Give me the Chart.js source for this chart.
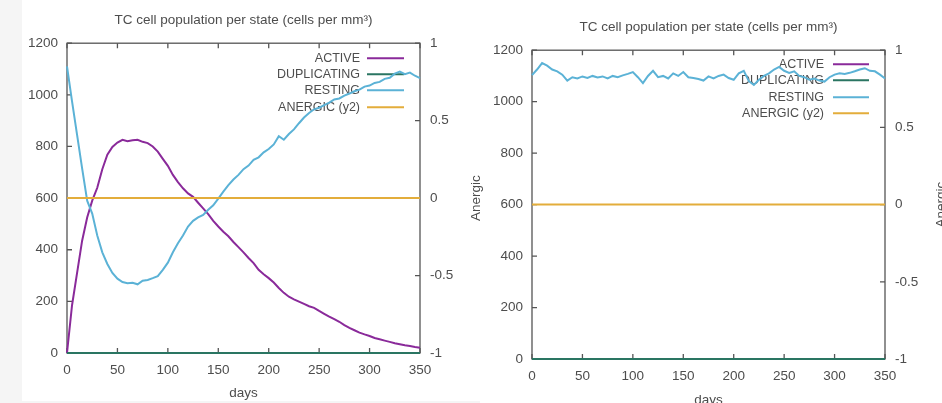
<!DOCTYPE html>
<html>
<head>
<meta charset="utf-8">
<script src="https://cdn.jsdelivr.net/npm/chart.js@4/dist/chart.umd.min.js"></script>
<style>
  body { margin: 0; width: 942px; height: 403px; overflow: hidden; background: #fff; position: relative; }
  #strip { position: absolute; left: 0; top: 0; width: 22px; height: 403px; background: #f5f5f5; }
  #band { position: absolute; left: 0; top: 401px; width: 480px; height: 2px; background: #f5f5f5; }
  canvas { position: absolute; top: 0; }
  #leftChart { left: 0; }
  #rightChart { left: 480px; }
</style>
</head>
<body>
<div id="strip"></div>
<div id="band"></div>
<canvas id="leftChart" width="490" height="403"></canvas>
<canvas id="rightChart" width="475" height="412"></canvas>
<script>
// sampling days shared by the noisy series
const days = [0, 5, 10, 15, 20, 25, 30, 35, 40, 45, 50, 55, 60, 65, 70, 75, 80, 85, 90, 95,
  100, 105, 110, 115, 120, 125, 130, 135, 140, 145, 150, 155, 160, 165, 170, 175, 180, 185, 190, 195,
  200, 205, 210, 215, 220, 225, 230, 235, 240, 245, 250, 255, 260, 265, 270, 275, 280, 285, 290, 295,
  300, 305, 310, 315, 320, 325, 330, 335, 340, 345, 350];
// flat series only need their ends
const flatDays = [0, 350];

// left panel
const activeLeft = [0, 185, 310, 435, 525, 590, 640, 712, 768, 798, 815, 826, 820, 824, 826, 818, 813, 800, 780, 752,
  725, 690, 662, 638, 618, 605, 582, 560, 538, 512, 490, 470, 452, 430, 410, 390, 368, 348, 322, 305,
  290, 273, 252, 233, 218, 208, 199, 190, 181, 175, 163, 152, 141, 131, 121, 108, 97, 88, 79, 72,
  66, 58, 53, 48, 43, 38, 34, 30, 27, 23, 20];
const duplicatingLeft = [0, 0];
const restingLeft = [1110, 975, 845, 715, 590, 540, 455, 390, 345, 310, 288, 275, 270, 272, 266, 280, 283, 290, 298, 322,
  350, 390, 425, 455, 490, 512, 525, 535, 555, 572, 598, 625, 650, 672, 690, 712, 726, 748, 758, 777,
  790, 808, 840, 826, 848, 866, 890, 912, 930, 944, 950, 960, 970, 982, 986, 997, 1005, 1014, 1020, 1032,
  1036, 1046, 1050, 1062, 1066, 1082, 1090, 1080, 1086, 1074, 1065];
const anergicLeft = [0, 0];

// right panel
const activeRight = [0, 0];
const duplicatingRight = [0, 0];
const restingRight = [1103, 1125, 1150, 1140, 1125, 1118, 1105, 1082, 1095, 1090, 1098, 1092, 1100, 1094, 1098, 1090, 1100, 1095, 1102, 1108,
  1115, 1095, 1072, 1100, 1120, 1095, 1100, 1090, 1110, 1100, 1115, 1095, 1092, 1088, 1082, 1098, 1090, 1100, 1105, 1092,
  1085, 1110, 1120, 1080, 1065, 1085, 1100, 1110, 1125, 1135, 1120, 1112, 1118, 1100, 1095, 1085, 1090, 1082, 1078, 1095,
  1105, 1110, 1108, 1112, 1118, 1125, 1130, 1120, 1118, 1105, 1090];
const anergicRight = [0, 0];

const seriesNames = ['ACTIVE', 'DUPLICATING', 'RESTING', 'ANERGIC (y2)'];
const seriesColors = ['#8a2a9a', '#2a7562', '#5bb2d6', '#e3ad3b'];
const yTicks = [0, 200, 400, 600, 800, 1000, 1200];
const y2Ticks = [-1, -0.5, 0, 0.5, 1];
const chartTitle = 'TC cell population per state (cells per mm³)';
const xTitle = 'days';
const y2Title = 'Anergic';

Chart.defaults.font.family = '"Liberation Sans", Arial, sans-serif';
Chart.defaults.color = '#4d4d4d';

const ink = '#555555';

function pts(xs, ys) {
  return ys.map((v, i) => ({ x: xs[i], y: v }));
}

// box frame with inward ticks, like gnuplot's border
const framePlugin = {
  id: 'frame',
  beforeDatasetsDraw(chart) {
    const { ctx, chartArea: a, scales } = chart;
    ctx.save();
    ctx.strokeStyle = ink;
    ctx.lineWidth = 1.3;
    ctx.strokeRect(a.left, a.top, a.width, a.height);
    ctx.beginPath();
    scales.x.ticks.forEach(t => {
      const px = scales.x.getPixelForValue(t.value);
      ctx.moveTo(px, a.bottom); ctx.lineTo(px, a.bottom - 5);
      ctx.moveTo(px, a.top); ctx.lineTo(px, a.top + 5);
    });
    scales.y.ticks.forEach(t => {
      const py = scales.y.getPixelForValue(t.value);
      ctx.moveTo(a.left, py); ctx.lineTo(a.left + 5, py);
    });
    scales.y2.ticks.forEach(t => {
      const py = scales.y2.getPixelForValue(t.value);
      ctx.moveTo(a.right, py); ctx.lineTo(a.right - 5, py);
    });
    ctx.stroke();
    ctx.restore();
  }
};

// key in the top right corner: right-aligned text, sample line after it
const keyPlugin = {
  id: 'key',
  beforeDatasetsDraw(chart, args, opts) {
    const { ctx, chartArea: a } = chart;
    ctx.save();
    ctx.font = '12.5px "Liberation Sans", Arial, sans-serif';
    ctx.textAlign = 'right';
    ctx.textBaseline = 'middle';
    chart.data.datasets.forEach((ds, i) => {
      const y = a.top + opts.rows[i];
      ctx.fillStyle = '#4d4d4d';
      ctx.fillText(ds.label, a.right - opts.textGap, y);
      ctx.strokeStyle = ds.borderColor;
      ctx.lineWidth = 2;
      ctx.beginPath();
      ctx.moveTo(a.right - opts.lineFrom, y);
      ctx.lineTo(a.right - opts.lineTo, y);
      ctx.stroke();
    });
    ctx.restore();
  }
};

// y2 axis title, reading bottom to top
const y2TitlePlugin = {
  id: 'y2title',
  afterDraw(chart, args, opts) {
    const { ctx, chartArea: a } = chart;
    ctx.save();
    ctx.translate(a.right + opts.offset, (a.top + a.bottom) / 2);
    ctx.rotate(-Math.PI / 2);
    ctx.font = '13.5px "Liberation Sans", Arial, sans-serif';
    ctx.fillStyle = '#4d4d4d';
    ctx.textAlign = 'center';
    ctx.textBaseline = 'middle';
    ctx.fillText(y2Title, 0, 0);
    ctx.restore();
  }
};

function buildChart(id, data, geo) {
  const [active, dup, rest, anergic] = data;
  const sets = [
    { data: pts(active.length === 2 ? flatDays : days, active), yAxisID: 'y', order: 4 },
    { data: pts(flatDays, dup), yAxisID: 'y', order: 3 },
    { data: pts(days, rest), yAxisID: 'y', order: 2 },
    { data: pts(flatDays, anergic), yAxisID: 'y2', order: 1 }
  ].map((ds, i) => Object.assign(ds, {
    label: seriesNames[i],
    borderColor: seriesColors[i],
    backgroundColor: seriesColors[i],
    borderWidth: 2,
    pointRadius: 0,
    tension: 0,
    clip: 4
  }));

  return new Chart(document.getElementById(id), {
    type: 'line',
    data: { datasets: sets },
    options: {
      responsive: false,
      animation: false,
      layout: { padding: 0 },
      scales: {
        x: {
          type: 'linear', min: 0, max: 350,
          ticks: { stepSize: 50, padding: 9, font: { size: 13.5 }, maxRotation: 0, callback: v => String(v) },
          grid: { display: false, drawTicks: false },
          border: { display: false },
          title: { display: true, text: xTitle, font: { size: 13.5 }, padding: { top: 0, bottom: geo.xTitlePad } },
          afterFit: s => { s.height = geo.xHeight; }
        },
        y: {
          position: 'left', min: 0, max: 1200,
          afterBuildTicks: s => { s.ticks = yTicks.map(v => ({ value: v })); },
          ticks: { padding: 9, font: { size: 13.5 }, callback: v => String(v) },
          grid: { display: false, drawTicks: false },
          border: { display: false },
          afterFit: s => { s.width = geo.yWidth; }
        },
        y2: {
          position: 'right', min: -1, max: 1,
          afterBuildTicks: s => { s.ticks = y2Ticks.map(v => ({ value: v })); },
          ticks: { padding: 10, font: { size: 13.5 }, callback: v => String(v) },
          grid: { display: false, drawTicks: false },
          border: { display: false },
          afterFit: s => { s.width = geo.y2Width; }
        }
      },
      plugins: {
        legend: { display: false },
        tooltip: { enabled: false },
        title: {
          display: true, text: chartTitle, fullSize: false, color: '#4d4d4d',
          font: { size: 13.5, weight: 'normal' },
          padding: { top: geo.titleTop, bottom: geo.titleBottom }
        },
        key: geo.key,
        y2title: { offset: 56 }
      }
    },
    plugins: [framePlugin, keyPlugin, y2TitlePlugin]
  });
}

buildChart('leftChart', [activeLeft, duplicatingLeft, restingLeft, anergicLeft], {
  xHeight: 50, xTitlePad: 2, yWidth: 67, y2Width: 70, titleTop: 12, titleBottom: 15,
  key: { rows: [15, 31, 47, 64], textGap: 60, lineFrom: 53, lineTo: 16 }
});

buildChart('rightChart', [activeRight, duplicatingRight, restingRight, anergicRight], {
  xHeight: 53, xTitlePad: 4, yWidth: 52, y2Width: 70, titleTop: 19, titleBottom: 15,
  key: { rows: [14, 30, 47, 63], textGap: 61, lineFrom: 52, lineTo: 16 }
});
</script>
</body>
</html>
